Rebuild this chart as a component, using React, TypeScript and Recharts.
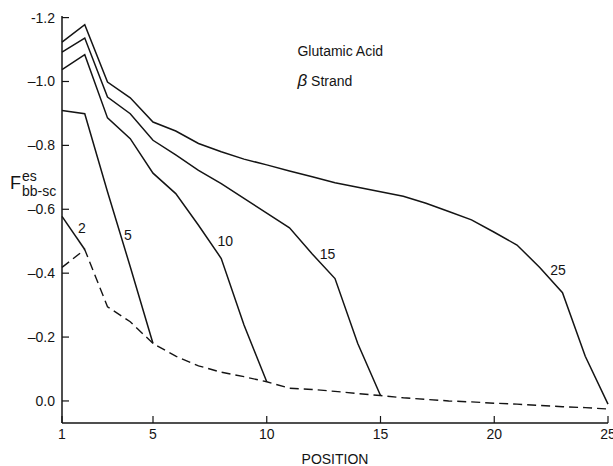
import { LineChart, Line, XAxis, YAxis, ReferenceDot, Label } from "recharts";

const positions = [1, 2, 3, 4, 5, 6, 7, 8, 9, 10, 11, 12, 13, 14, 15, 16, 17, 18, 19, 20, 21, 22, 23, 24, 25];
const strand2 = [-0.578, -0.474];
const strand5 = [-0.909, -0.899, -0.655, -0.42, -0.18];
const strand10 = [-1.0375, -1.084, -0.886, -0.821, -0.713, -0.649, -0.55, -0.446, -0.238, -0.06];
const strand15 = [-1.092, -1.136, -0.951, -0.899, -0.816, -0.77, -0.722, -0.68, -0.634, -0.588, -0.542, -0.46, -0.383, -0.18, -0.017];
const strand25 = [
  -1.123, -1.178, -0.998, -0.949, -0.873, -0.845, -0.806, -0.78, -0.757, -0.739, -0.72, -0.702, -0.683,
  -0.669, -0.655, -0.641, -0.619, -0.593, -0.567, -0.528, -0.488, -0.418, -0.339, -0.14, 0.01,
];
const baseline = [
  -0.418, -0.474, -0.295, -0.248, -0.18, -0.14, -0.11, -0.09, -0.076, -0.06, -0.04, -0.036, -0.03,
  -0.023, -0.017, -0.01, -0.005, 0.0, 0.003, 0.007, 0.01, 0.014, 0.018, 0.021, 0.025,
];
const xTicks = [1, 5, 10, 15, 20, 25];
const yTicks = [-1.2, -1.0, -0.8, -0.6, -0.4, -0.2, 0.0];
const curveLabels = [
  { text: "2", x: 1.88, y: -0.54 },
  { text: "5", x: 3.9, y: -0.52 },
  { text: "10", x: 8.18, y: -0.5 },
  { text: "15", x: 12.67, y: -0.46 },
  { text: "25", x: 22.8, y: -0.41 },
];

const data = positions.map((p, i) => ({
  pos: p,
  s2: strand2[i],
  s5: strand5[i],
  s10: strand10[i],
  s15: strand15[i],
  s25: strand25[i],
  base: baseline[i],
}));

const FONT = "'Liberation Sans', Arial, sans-serif";
const INK = "#141414";
const Y_DOMAIN: [number, number] = [-1.205, 0.069];

const fmtY = (v: number) => {
  if (v === 0) return "0.0";
  if (v === -1.2) return "-1.2";
  return "\u2013" + Math.abs(v).toFixed(1);
};

const BottomTick = ({ x, y, payload }: any) => (
  <g>
    <line x1={x} y1={y} x2={x} y2={y - 7} stroke={INK} strokeWidth={1.2} />
    <text x={x} y={y + 16} textAnchor="middle" fontFamily={FONT} fontSize={14} fill={INK}>
      {payload.value}
    </text>
  </g>
);

const TopTick = ({ x, y }: any) => <line x1={x} y1={y} x2={x} y2={y + 7} stroke={INK} strokeWidth={1.2} />;

const LeftTick = ({ x, y, payload }: any) => (
  <g>
    <line x1={x} y1={y} x2={x + 7} y2={y} stroke={INK} strokeWidth={1.2} />
    <text x={x - 7} y={y + 5} textAnchor="end" fontFamily={FONT} fontSize={14} fill={INK}>
      {fmtY(payload.value)}
    </text>
  </g>
);

const RightTick = ({ x, y }: any) => <line x1={x} y1={y} x2={x - 7} y2={y} stroke={INK} strokeWidth={1.2} />;

const YTitle = () => (
  <text fontFamily={FONT} fill={INK}>
    <tspan x={10} y={189} fontSize={18}>F</tspan>
    <tspan x={22} y={181} fontSize={14}>es</tspan>
    <tspan x={22} y={196} fontSize={14}>bb-sc</tspan>
  </text>
);

const StartText = ({ viewBox, value, italicFirst }: any) => {
  const cx = viewBox.x + (viewBox.width || 0) / 2;
  const cy = viewBox.y + (viewBox.height || 0) / 2;
  if (italicFirst) {
    return (
      <text x={cx} y={cy + 5} fontFamily={FONT} fontSize={14} fill={INK}>
        <tspan fontStyle="italic" fontSize={17}>β</tspan>
        <tspan> Strand</tspan>
      </text>
    );
  }
  return (
    <text x={cx} y={cy + 5} fontFamily={FONT} fontSize={14} fill={INK}>
      {value}
    </text>
  );
};

export default function App() {
  return (
    <div style={{ position: "absolute", left: 0, top: 0, background: "#fff" }}>
      <LineChart width={613} height={466} data={data} margin={{ top: 16, right: 5, bottom: 0, left: 0 }}>
        <XAxis
          xAxisId="bottom"
          dataKey="pos"
          type="number"
          domain={[1, 25]}
          ticks={xTicks}
          height={43}
          tickSize={0}
          tickMargin={0}
          tick={<BottomTick />}
          axisLine={{ stroke: INK, strokeWidth: 1.5 }}
          interval={0}
        >
          <Label value="POSITION" position="insideBottom" offset={2} fontFamily={FONT} fontSize={14} fill={INK} />
        </XAxis>
        <XAxis
          xAxisId="top"
          orientation="top"
          dataKey="pos"
          type="number"
          domain={[1, 25]}
          ticks={[5, 10, 15, 20]}
          height={0}
          tickSize={0}
          tickMargin={0}
          tick={<TopTick />}
          axisLine={{ stroke: INK, strokeWidth: 1.5 }}
          interval={0}
        />
        <YAxis
          yAxisId="left"
          type="number"
          domain={Y_DOMAIN}
          reversed
          ticks={yTicks}
          width={62}
          tickSize={0}
          tickMargin={0}
          tick={<LeftTick />}
          axisLine={{ stroke: INK, strokeWidth: 1.5 }}
          interval={0}
        >
          <Label content={<YTitle />} />
        </YAxis>
        <YAxis
          yAxisId="right"
          orientation="right"
          type="number"
          domain={Y_DOMAIN}
          reversed
          ticks={yTicks}
          width={0}
          tickSize={0}
          tickMargin={0}
          tick={<RightTick />}
          axisLine={{ stroke: INK, strokeWidth: 1.5 }}
          interval={0}
        />
        {["s2", "s5", "s10", "s15", "s25"].map((k) => (
          <Line
            key={k}
            xAxisId="bottom"
            yAxisId="left"
            dataKey={k}
            type="linear"
            stroke={INK}
            strokeWidth={1.5}
            dot={false}
            activeDot={false}
            isAnimationActive={false}
          />
        ))}
        <Line
          xAxisId="bottom"
          yAxisId="left"
          dataKey="base"
          type="linear"
          stroke={INK}
          strokeWidth={1.4}
          strokeDasharray="9 5"
          dot={false}
          activeDot={false}
          isAnimationActive={false}
        />
        {curveLabels.map((c) => (
          <ReferenceDot
            key={c.text}
            xAxisId="bottom"
            yAxisId="left"
            x={c.x}
            y={c.y}
            r={0}
            fill="none"
            stroke="none"
            label={{ value: c.text, position: "center", fontFamily: FONT, fontSize: 14, fill: INK }}
          />
        ))}
        <ReferenceDot
          xAxisId="bottom"
          yAxisId="left"
          x={11.35}
          y={-1.094}
          r={0}
          fill="none"
          stroke="none"
          label={<StartText value="Glutamic Acid" />}
        />
        <ReferenceDot
          xAxisId="bottom"
          yAxisId="left"
          x={11.35}
          y={-1.003}
          r={0}
          fill="none"
          stroke="none"
          label={<StartText value="β Strand" italicFirst />}
        />
      </LineChart>
    </div>
  );
}
